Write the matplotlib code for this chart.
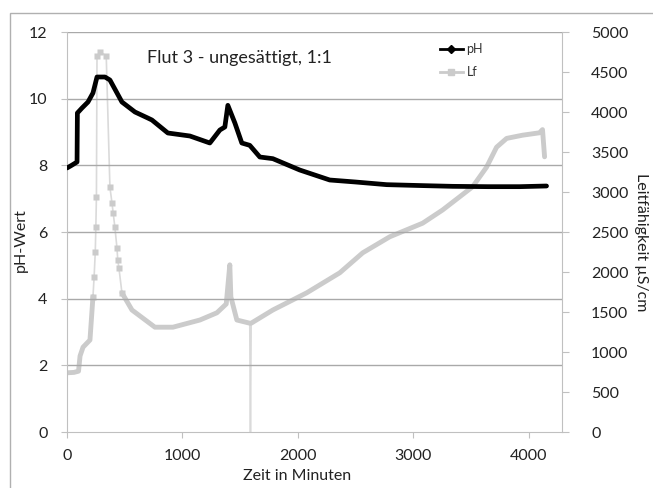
import matplotlib
matplotlib.use("Agg")
import matplotlib.pyplot as plt
from matplotlib.lines import Line2D
from matplotlib.patches import Rectangle

plt.rcParams['font.family'] = ['Lato', 'DejaVu Sans']

# pH data (time in minutes, pH)
ph_t = [0, 40, 87, 90, 130, 182, 225, 260, 329, 372, 476, 589, 700, 736, 874,
        1065, 1238, 1325, 1368, 1394, 1455, 1515, 1584, 1671, 1784, 2017, 2277,
        2500, 2771, 3100, 3342, 3650, 3922, 4156]
ph_v = [7.92, 8.0, 8.1, 9.57, 9.72, 9.9, 10.17, 10.65, 10.65, 10.56, 9.9, 9.6,
        9.42, 9.36, 8.97, 8.88, 8.67, 9.06, 9.15, 9.8, 9.27, 8.67, 8.6, 8.25,
        8.2, 7.86, 7.56, 7.5, 7.42, 7.39, 7.37, 7.36, 7.36, 7.38]

# Conductivity data (time in minutes, µS/cm)
lf_t = [0, 60, 100, 113, 139, 199, 225, 235, 245, 250, 255, 260, 290, 340, 372,
        390, 400, 415, 433, 440, 450, 476, 563, 762, 918, 1152, 1299, 1380,
        1411, 1420, 1472, 1584, 1590, 1596, 1784, 2078, 2364, 2563, 2797, 3082,
        3255, 3403, 3515, 3636, 3723, 3810, 3948, 4095, 4121, 4139]
lf_v = [740, 745, 760, 950, 1060, 1150, 1690, 1940, 2250, 2560, 2940, 4700,
        4750, 4700, 3060, 2860, 2740, 2560, 2300, 2150, 2050, 1740, 1525, 1310,
        1310, 1400, 1490, 1600, 2090, 1690, 1400, 1360, 0, 1360, 1525, 1740,
        1990, 2240, 2440, 2610, 2775, 2940, 3065, 3310, 3560, 3670, 3710, 3740,
        3780, 3440]

ph_ticks = [0, 2, 4, 6, 8, 10, 12]
lf_ticks = [0, 500, 1000, 1500, 2000, 2500, 3000, 3500, 4000, 4500, 5000]
x_ticks = [0, 1000, 2000, 3000, 4000]

W, H = 653, 488
fig = plt.figure(figsize=(W / 100, H / 100), dpi=100)
ax = fig.add_axes([67 / W, 1 - 432 / H, (562 - 67) / W, 400 / H])
ax2 = ax.twinx()

grid_c = '#a9a9a9'
spine_c = '#c0c0c0'
lf_c = '#cbcbcb'

# gridlines
for v in ph_ticks[1:]:
    ax.axhline(v, color=grid_c, lw=1.0, zorder=0)

# Lf series: thin line through all points, thick where points are dense
i0 = lf_t.index(225)
i1 = lf_t.index(476)
iz = lf_v.index(0)
ax2.plot(lf_t, lf_v, color='#dadada', lw=1.2, zorder=2)
segs = [(0, i0 + 1), (i1, iz), (iz + 1, len(lf_t))]
for a, b in segs:
    ax2.plot(lf_t[a:b], lf_v[a:b], color=lf_c, lw=3.5, solid_capstyle='round',
             zorder=2)
ax2.plot(lf_t[i0:i1 + 1], lf_v[i0:i1 + 1], ls='none', marker='s', ms=4.5,
         color=lf_c, mec='none', zorder=2)

# pH series above
ax.set_zorder(ax2.get_zorder() + 1)
ax.patch.set_visible(False)
ax.plot(ph_t, ph_v, color='black', lw=3.4, solid_joinstyle='round',
        solid_capstyle='round', zorder=3)

ax.set_xlim(0, 4290)
ax.set_ylim(0, 12)
ax2.set_ylim(0, 5000)
ax.set_xticks(x_ticks)
ax.set_yticks(ph_ticks)
ax2.set_yticks(lf_ticks)

for a in (ax, ax2):
    for s in a.spines.values():
        s.set_visible(False)
ax.spines['left'].set_visible(True)
ax.spines['left'].set_color(spine_c)
ax.spines['bottom'].set_visible(True)
ax.spines['bottom'].set_color(spine_c)
ax2.spines['right'].set_visible(True)
ax2.spines['right'].set_color(spine_c)

ax.tick_params(axis='x', direction='out', length=4, color=spine_c, labelsize=11.5,
               pad=8, labelcolor='#222222')
ax.tick_params(axis='y', direction='out', length=4, color=spine_c, labelsize=11.5,
               pad=10, labelcolor='#222222')
ax2.tick_params(axis='y', direction='out', length=5, color=spine_c, labelsize=11.5,
                pad=16, labelcolor='#222222')

ax.set_xlabel('Zeit in Minuten', fontsize=11.5, color='#222222')
ax.xaxis.set_label_coords((297 - 67) / 495, -(469 - 432) / 400)
ax.set_ylabel('pH-Wert', fontsize=11.5, color='#222222')
ax.yaxis.set_label_coords(-(67 - 28) / 495, 0.48)
ax2.set_ylabel('Leitfähigkeit µS/cm', fontsize=11.5, rotation=270, color='#222222')
ax2.yaxis.set_label_coords((648 - 67) / 495, 0.475)

fig.text(239 / W, 1 - 58 / H, 'Flut 3 - ungesättigt, 1:1', fontsize=13,
         ha='center', va='center', color='#222222')

handles = [Line2D([], [], color='black', lw=2, marker='D', ms=4),
           Line2D([], [], color=lf_c, lw=2, marker='s', ms=4)]
ax.legend(handles, ['pH', 'Lf'], loc='upper left', bbox_to_anchor=(0.73, 1.0),
          frameon=False, fontsize=9, handlelength=1.9, labelspacing=0.9,
          handletextpad=0.25, labelcolor='#333333')

fig.patches.append(Rectangle((10 / W, -0.01), 1.02, (488 - 13) / H + 0.01,
                             transform=fig.transFigure, fill=False,
                             edgecolor='#b0b0b0', lw=1.0))

fig.savefig('out.png', dpi=100)
